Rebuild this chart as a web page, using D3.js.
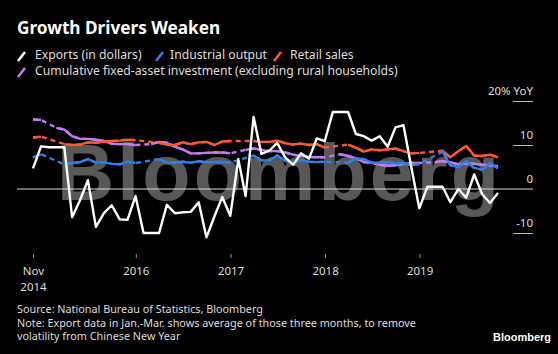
<!DOCTYPE html>
<html><head><meta charset="utf-8">
<script src="https://cdn.jsdelivr.net/npm/d3@7/dist/d3.min.js"></script>
<style>
body{margin:0;background:#000;}
svg{display:block;}
text{font-family:"Noto Sans",sans-serif;}
</style>
</head><body>
<svg id="c" width="558" height="354"></svg>
<script>
// ---- data ----
const months = [
 "2014-11","2014-12",
 "2015-01","2015-02","2015-03","2015-04","2015-05","2015-06","2015-07","2015-08","2015-09","2015-10","2015-11","2015-12",
 "2016-01","2016-02","2016-03","2016-04","2016-05","2016-06","2016-07","2016-08","2016-09","2016-10","2016-11","2016-12",
 "2017-01","2017-02","2017-03","2017-04","2017-05","2017-06","2017-07","2017-08","2017-09","2017-10","2017-11","2017-12",
 "2018-01","2018-02","2018-03","2018-04","2018-05","2018-06","2018-07","2018-08","2018-09","2018-10","2018-11","2018-12",
 "2019-01","2019-02","2019-03","2019-04","2019-05","2019-06","2019-07","2019-08","2019-09","2019-10"
];
const exportsYoY = [
 4.7, 9.7,
 9.5, 9.5, 9.5, -6.4, -2.5, 2.0, -8.6, -5.5, -3.7, -6.9, -7.0, -1.6,
 -10, -10, -10, -3.6, -5.5, -5.3, -5.2, -3, -11, -6.2, -1.8, -6.1,
 6.8, -1.6, 16.4, 8, 8.7, 10.5, 7.2, 5.5, 8.1, 6.9, 11.5, 10.9,
 17.5, 17.5, 17.5, 12.5, 12, 11, 12, 9.6, 14, 14.5, 5, -4.4,
 0.5, 0.5, 0.5, -3, 0, -2, 3.3, -1.2, -3.2, -0.9
];
const industrialOutput = [
 7.2, 7.9,
 null, null, 5.6, 5.9, 6.1, 6.8, 6.0, 6.1, 5.7, 5.6, 6.2, 5.9,
 null, null, 6.8, 6.0, 6.0, 6.2, 6.0, 6.3, 6.1, 6.1, 6.2, 6.0,
 null, null, 7.6, 6.5, 6.5, 7.6, 6.4, 6.0, 6.6, 6.2, 6.1, 6.2,
 null, null, 6.0, 7.0, 6.8, 6.0, 6.0, 6.1, 5.8, 5.9, 5.4, 5.7,
 null, null, 8.5, 5.4, 5.0, 6.3, 4.8, 4.4, 5.8, 4.7
];
const retailSales = [
 11.7, 11.9,
 null, null, 10.2, 10.0, 10.1, 10.6, 10.5, 10.8, 10.9, 11.0, 11.2, 11.1,
 null, null, 10.5, 10.1, 10.0, 10.6, 10.2, 10.6, 10.7, 10.0, 10.8, 10.9,
 null, null, 10.9, 10.7, 10.7, 11.0, 10.4, 10.1, 10.3, 10.0, 10.2, 9.4,
 null, null, 10.1, 9.4, 8.5, 9.0, 8.8, 9.0, 9.2, 8.6, 8.1, 8.2,
 null, null, 8.7, 7.2, 8.6, 9.8, 7.6, 7.5, 7.8, 7.2
];
const fixedAssetInv = [
 15.8, 15.7,
 null, 13.9, 13.5, 12.0, 11.4, 11.4, 11.2, 10.9, 10.3, 10.2, 10.2, 10.0,
 null, 10.2, 10.7, 10.5, 9.6, 9.0, 8.1, 8.1, 8.2, 8.3, 8.3, 8.1,
 null, 8.9, 9.2, 8.9, 8.6, 8.6, 8.3, 7.8, 7.5, 7.3, 7.2, 7.2,
 null, 7.9, 7.5, 7.0, 6.1, 6.0, 5.5, 5.3, 5.4, 5.7, 5.9, 5.9,
 null, 6.1, 6.3, 6.1, 5.6, 5.8, 5.7, 5.5, 5.4, 5.2
];
const seriesNames = ["Exports (in dollars)","Industrial output","Retail sales","Cumulative fixed-asset investment (excluding rural households)"];
const seriesColors = ["#ffffff","#2f7fe6","#ff5a2e","#c27cf0"];
const yTicks = [-10, 0, 10, 20];
const xTickDates = ["2014-11","2016-01","2017-01","2018-01","2019-01"];
const xTickLabels = [["Nov","2014"],["2016"],["2017"],["2018"],["2019"]];

// ---- chart ----
const svg = d3.select("#c");
svg.append("rect").attr("width",558).attr("height",354).attr("fill","#000");

const parseM = s => { const [y,m] = s.split("-").map(Number); return new Date(y, m, 0); }; // month end
const parseStart = s => { const [y,m] = s.split("-").map(Number); return m===1 ? new Date(y,0,1) : new Date(y, m, 0); };
const dates = months.map(parseM);

const x = d3.scaleTime().domain([dates[0], dates[dates.length-1]]).range([33, 498]);
const y = d3.scaleLinear().domain([-10, 20]).range([233, 101]);

// watermark
svg.append("text").attr("x",57).attr("y",200)
  .attr("font-weight","bold")
  .attr("font-size",79).attr("fill","#585858")
  .attr("textLength",442).attr("lengthAdjust","spacing")
  .style("font-family","'Liberation Sans',Arial,sans-serif")
  .text("Bloomberg");

// title
svg.append("text").attr("x",17).attr("y",34).attr("fill","#fff")
  .attr("font-size",17.2).attr("font-weight","bold").text("Growth Drivers Weaken");

// legend
const legendPos = [[17,59],[155,59],[273,59],[17,75]];
const legendText = [35,170,290,35];
seriesNames.forEach((n,i)=>{
  const [lx,ly] = legendPos[i];
  svg.append("line").attr("x1",lx+1).attr("y1",ly+2).attr("x2",lx+8).attr("y2",ly-7)
    .attr("stroke",seriesColors[i]).attr("stroke-width",2.6);
  svg.append("text").attr("x",legendText[i]).attr("y",ly).attr("fill","#ddd")
    .attr("font-size",12.2).text(n);
});

// zero line
svg.append("line").attr("x1",17).attr("x2",533).attr("y1",y(0)).attr("y2",y(0))
  .attr("stroke","#d8d8d8").attr("stroke-width",1);

// right axis
const yAxis = d3.axisLeft(y).tickValues(yTicks).tickSize(0).tickPadding(0)
  .tickFormat(d => d===20 ? "20% YoY" : (d<0 ? "-" + Math.abs(d) : String(d)));
const ya = svg.append("g").attr("transform","translate(533,0)").call(yAxis);
ya.select(".domain").remove();
ya.selectAll("text").attr("fill","#ddd").attr("font-size",11.5)
  .attr("dy",null).attr("y",-7).attr("text-anchor","end").attr("x",0);
ya.selectAll(".tick").filter(d=>d!==0).append("line")
  .attr("x1",-20).attr("x2",0).attr("y1",0).attr("y2",0).attr("stroke","#bbb").attr("stroke-width",1);

// x axis
const xAxis = d3.axisBottom(x).tickValues(xTickDates.map(parseStart)).tickSize(4).tickFormat("");
const xa = svg.append("g").attr("transform","translate(0,254)").call(xAxis);
xa.select(".domain").remove();
xa.selectAll(".tick line").attr("stroke","#999");
xa.selectAll(".tick").each(function(d,i){
  const t = d3.select(this).append("text").attr("fill","#ddd").attr("font-size",11.5)
    .attr("text-anchor","middle").attr("y",21);
  xTickLabels[i].forEach((s,j)=> t.append("tspan").attr("x",0).attr("dy", j===0?0:16).text(s));
});

// lines
const line = d3.line().x(d=>x(d.date)).y(d=>y(d.v)).defined(d=>d.v!==null);
function drawSeries(vals, color, w){
  const data = vals.map((v,i)=>({date:dates[i], v}));
  const hasGap = vals.some(v=>v===null);
  if(hasGap){
    svg.append("path").datum(data.filter(d=>d.v!==null)).attr("d",line)
      .attr("fill","none").attr("stroke",color).attr("stroke-width",w)
      .attr("stroke-dasharray","5,4");
  }
  svg.append("path").datum(data).attr("d",line)
    .attr("fill","none").attr("stroke",color).attr("stroke-width",w)
    .attr("stroke-linejoin","round");
}
drawSeries(fixedAssetInv, seriesColors[3], 2.4);
drawSeries(retailSales, seriesColors[2], 2.4);
drawSeries(industrialOutput, seriesColors[1], 2.4);
drawSeries(exportsYoY, seriesColors[0], 2.4);

// footer
const notes = ["Source: National Bureau of Statistics, Bloomberg",
 "Note: Export data in Jan.-Mar. shows average of those three months, to remove",
 "volatility from Chinese New Year"];
notes.forEach((s,i)=> svg.append("text").attr("x",17).attr("y",313+i*13.5).attr("fill","#ddd")
  .attr("font-size",10.8).text(s));
svg.append("text").attr("x",551).attr("y",341).attr("fill","#fff").attr("text-anchor","end")
  .attr("font-size",11).attr("font-weight","bold")
  .style("font-family","'Liberation Sans',Arial,sans-serif").text("Bloomberg");
</script>
</body></html>
